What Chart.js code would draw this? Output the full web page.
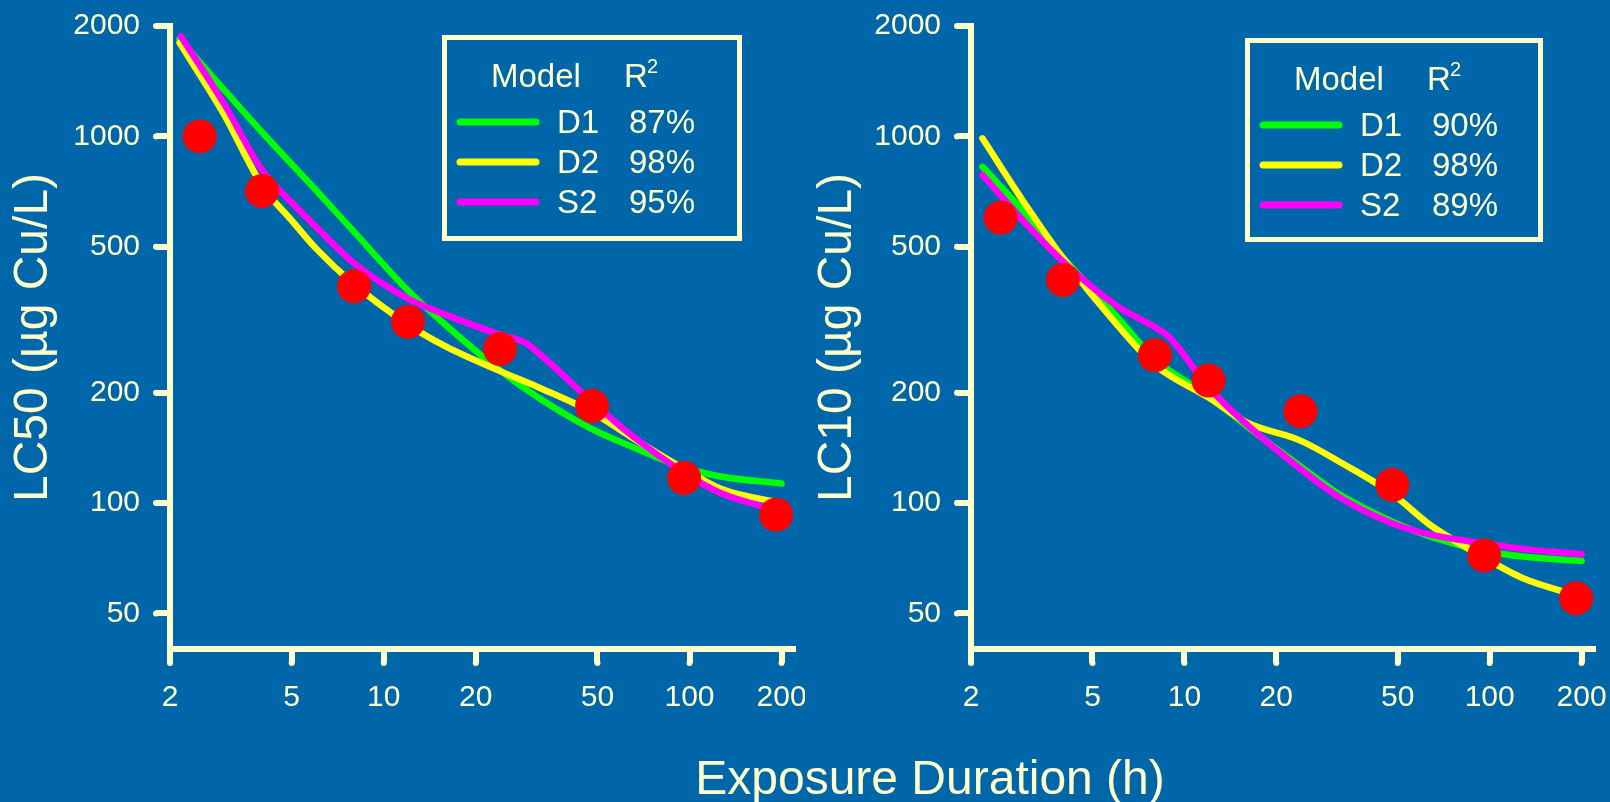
<!DOCTYPE html>
<html>
<head>
<meta charset="utf-8">
<script src="https://cdn.jsdelivr.net/npm/chart.js@4.4.1/dist/chart.umd.min.js"></script>
<style>
  html, body { margin: 0; padding: 0; background: #0066AA; width: 1610px; height: 802px; overflow: hidden; }
  #wrap { position: relative; width: 1610px; height: 802px; background: #0066AA; }
  canvas { position: absolute; top: 0; }
  #c1 { left: 0; }
  #c2 { left: 805px; }
  #xtitle { position: absolute; left: 630px; width: 600px; top: 754px; text-align: center;
            font-family: "Liberation Sans", Arial, sans-serif; font-size: 48px; line-height: 48px;
            color: #FFFFCC; white-space: nowrap; }
</style>
</head>
<body>
<div id="wrap">
  <canvas id="c1" width="805" height="802"></canvas>
  <canvas id="c2" width="805" height="802"></canvas>
  <div id="xtitle">Exposure Duration (h)</div>
</div>
<script>
// ---------- data ----------
const xTickValues = [2, 5, 10, 20, 50, 100, 200];
const yTickValues = [50, 100, 200, 500, 1000, 2000];

const obsHours = [2.5, 4, 8, 12, 24, 48, 96, 192];
const lc50Obs  = [1000, 710, 390, 312, 263, 184, 117, 93];
const lc10Obs  = [600, 406, 253, 216, 178, 112, 72, 55];

// LC50 panel model curves
const lc50D1Hours = [2.15, 3, 4, 6, 8, 12, 16, 24, 32, 48, 64, 96, 128, 200];
const lc50D1 = [1843, 1342, 1026, 714, 549, 380, 305, 230, 194, 159, 143, 125, 118, 113];
const lc50D2Hours = [2.15, 3, 4, 5, 6, 8, 12, 16, 24, 32, 48, 64, 96, 128, 200];
const lc50D2 = [1800, 1150, 735, 590, 495, 395, 307, 267, 229, 207, 177, 152, 124, 109, 100];
const lc50S2Hours = [2.17, 3, 4, 5, 6, 8, 12, 16, 24, 29, 32, 48, 64, 96, 128, 190];
const lc50S2 = [1875, 1230, 810, 660, 567, 451, 361, 326, 288, 274, 257, 189, 154, 121, 106, 96];

// LC10 panel model curves
const lc10CurveHours = [2.18, 3, 4, 6, 8, 12, 16, 24, 32, 48, 64, 96, 128, 200];
const lc10D1 = [826, 620, 468, 323, 247, 196, 162, 126, 106, 89, 81, 74, 71.5, 69.5];
const lc10D2 = [988, 656, 466, 307, 238, 194, 166, 148, 130, 106, 87, 71, 62.5, 55.5];
const lc10S2Hours = [2.18, 3, 4, 6, 8, 8.9, 12, 16, 24, 32, 48, 64, 96, 128, 200];
const lc10S2 = [785, 582, 456, 345, 302, 284, 207, 164, 124, 104, 88, 82, 77.6, 75, 72.5];

const modelNames = ['D1', 'D2', 'S2'];
const lc50R2 = ['87%', '98%', '95%'];
const lc10R2 = ['90%', '98%', '89%'];
const modelColors = ['#00FF00', '#FFFF00', '#FF00FF'];

// ---------- styling ----------
const FG = '#FFFFCC';
const FONT = '"Liberation Sans", Arial, Helvetica, sans-serif';

function pts(xs, ys) { return xs.map((x, i) => ({ x: x, y: ys[i] })); }

const legendPlugin = {
  id: 'modelLegend',
  afterDraw(chart) {
    const o = chart.options.plugins.modelLegend;
    if (!o) return;
    const ctx = chart.ctx;
    ctx.save();
    // rounded ends of axis lines and tick marks
    const xs = chart.scales.x, ys = chart.scales.y, ca = chart.chartArea;
    ctx.fillStyle = FG;
    const dot = (x, y) => { ctx.beginPath(); ctx.arc(x, y, 3, 0, Math.PI * 2); ctx.fill(); };
    dot(ca.left, ca.top);
    dot(ca.right, ca.bottom);
    xTickValues.forEach(v => dot(xs.getPixelForValue(v), ca.bottom + 14));
    yTickValues.forEach(v => dot(ca.left - 14, ys.getPixelForValue(v)));

    ctx.strokeStyle = FG;
    ctx.lineWidth = 5;
    ctx.strokeRect(o.x + 2.5, o.y + 2.5, o.w - 5, o.h - 5);
    ctx.fillStyle = FG;
    ctx.textBaseline = 'alphabetic';
    ctx.textAlign = 'left';
    ctx.font = '33px ' + FONT;
    ctx.fillText('Model', o.x + 49, o.y + 52);
    ctx.fillText('R', o.x + 182, o.y + 52);
    ctx.font = '20px ' + FONT;
    ctx.fillText('2', o.x + 205, o.y + 38);
    ctx.font = '33px ' + FONT;
    ctx.lineCap = 'round';
    ctx.lineWidth = 7;
    o.names.forEach((name, i) => {
      const base = o.y + 98 + 40 * i;
      ctx.strokeStyle = o.colors[i];
      ctx.beginPath();
      ctx.moveTo(o.x + 18, base - 11);
      ctx.lineTo(o.x + 94, base - 11);
      ctx.stroke();
      ctx.fillStyle = FG;
      ctx.fillText(name, o.x + 115, base);
      ctx.fillText(o.r2[i], o.x + 187, base);
    });
    ctx.restore();
  }
};

function lineDs(label, xs, ys, color) {
  return {
    label: label, data: pts(xs, ys), borderColor: color, backgroundColor: color,
    borderWidth: 6.5, pointRadius: 0, pointHoverRadius: 0, fill: false,
    cubicInterpolationMode: 'monotone', borderCapStyle: 'round', borderJoinStyle: 'round',
    clip: false
  };
}

function makeChart(id, cfg) {
  return new Chart(document.getElementById(id), {
    type: 'line',
    data: {
      datasets: [
        { label: 'Observed', type: 'scatter', data: pts(obsHours, cfg.obs),
          backgroundColor: '#FF0000', borderColor: '#FF0000', borderWidth: 0,
          pointRadius: 17, pointHoverRadius: 17, showLine: false, clip: false },
        lineDs('S2', cfg.s2x, cfg.s2, modelColors[2]),
        lineDs('D2', cfg.d2x, cfg.d2, modelColors[1]),
        lineDs('D1', cfg.d1x, cfg.d1, modelColors[0])
      ]
    },
    options: {
      responsive: false,
      devicePixelRatio: 1,
      animation: false,
      events: [],
      layout: { autoPadding: false, padding: { left: 0, top: 26, right: cfg.padRight, bottom: 63 } },
      plugins: {
        legend: { display: false },
        tooltip: { enabled: false },
        modelLegend: { x: cfg.lx, y: cfg.ly, w: cfg.lw, h: cfg.lh, names: modelNames, r2: cfg.r2, colors: modelColors }
      },
      scales: {
        x: {
          type: 'logarithmic', min: 2, max: 218,
          afterBuildTicks(s) { s.ticks = xTickValues.map(v => ({ value: v })); },
          afterFit(s) { s.height = 90; s.paddingLeft = 0; s.paddingRight = 0; },
          ticks: { color: FG, font: { family: FONT, size: 30 }, padding: 17, autoSkip: false,
                   maxRotation: 0, callback: (v) => String(v) },
          grid: { display: true, drawOnChartArea: false, drawTicks: true, tickLength: 14, lineWidth: 6, color: FG },
          border: { display: true, width: 6, color: FG }
        },
        y: {
          type: 'logarithmic', min: 40, max: 2000,
          afterBuildTicks(s) { s.ticks = yTickValues.map(v => ({ value: v })); },
          afterFit(s) { s.width = cfg.yWidth; s.paddingTop = 0; s.paddingBottom = 0; },
          ticks: { color: FG, font: { family: FONT, size: 30 }, padding: 16, autoSkip: false,
                   callback: (v) => String(v) },
          grid: { display: true, drawOnChartArea: false, drawTicks: true, tickLength: 14, lineWidth: 6, color: FG },
          border: { display: true, width: 6, color: FG },
          title: { display: true, text: cfg.yTitle, color: FG, font: { family: FONT, size: 48 },
                   padding: { top: cfg.titlePad, bottom: 0 } }
        }
      }
    },
    plugins: [legendPlugin]
  });
}

makeChart('c1', {
  obs: lc50Obs, d1x: lc50D1Hours, d1: lc50D1, d2x: lc50D2Hours, d2: lc50D2, s2x: lc50S2Hours, s2: lc50S2,
  r2: lc50R2, yTitle: 'LC50 (µg Cu/L)', yWidth: 170, padRight: 12, titlePad: 5,
  lx: 442, ly: 35, lw: 300, lh: 206
});
makeChart('c2', {
  obs: lc10Obs, d1x: lc10CurveHours, d1: lc10D1, d2x: lc10CurveHours, d2: lc10D2, s2x: lc10S2Hours, s2: lc10S2,
  r2: lc10R2, yTitle: 'LC10 (µg Cu/L)', yWidth: 166, padRight: 17, titlePad: 4,
  lx: 440, ly: 38, lw: 298, lh: 204
});
</script>
</body>
</html>
